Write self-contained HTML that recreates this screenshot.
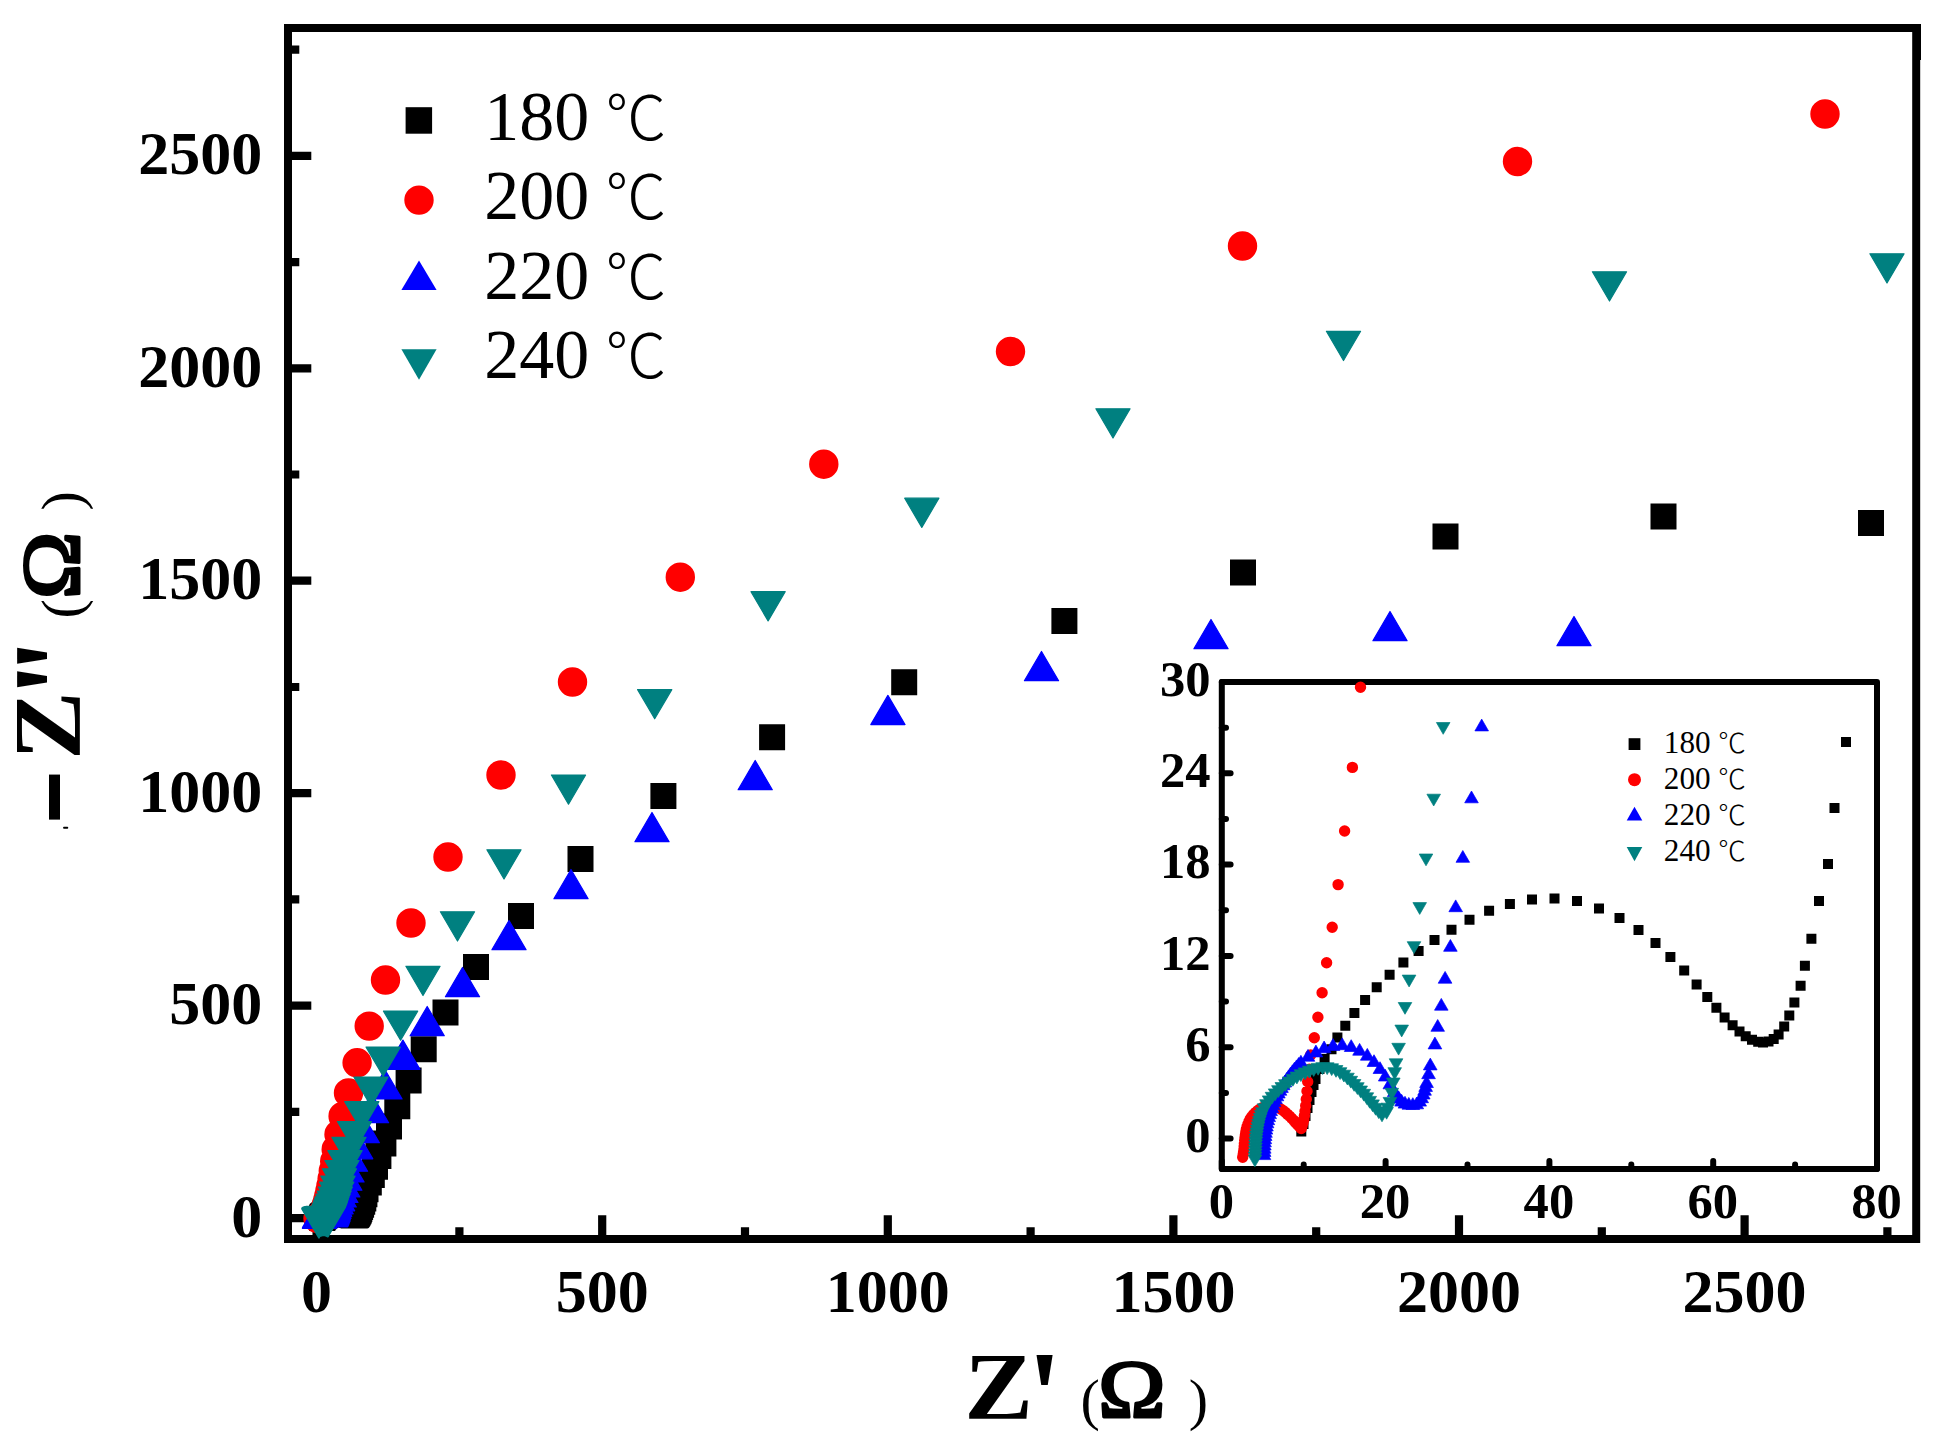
<!DOCTYPE html>
<html><head><meta charset="utf-8"><title>Nyquist plot</title>
<style>html,body{margin:0;padding:0;background:#fff}svg{display:block}
.tb{font-family:"Liberation Serif","Noto Serif CJK SC",serif;font-weight:bold}
.lg{font-family:"Liberation Serif","Noto Serif CJK SC",serif;font-weight:normal}
.dc{font-family:"Noto Sans CJK SC","Noto Serif CJK SC","Liberation Serif",sans-serif;font-weight:300}
</style></head><body>
<svg width="1934" height="1446" viewBox="0 0 1934 1446">
<rect width="1934" height="1446" fill="#fff"/>
<g id="main-axes" stroke="#000" fill="none">
<rect x="288" y="28" width="1628.2" height="1211" stroke-width="8"/>
<path stroke-width="3" d="M1919.5 24v36M285.5 60v1183"/>
<path stroke-width="8.2" d="M291 1218.1H311.3M316.6 1236V1215.2M291 1005.6H311.3M602.2 1236V1215.2M291 793.2H311.3M887.8 1236V1215.2M291 580.7H311.3M1173.4 1236V1215.2M291 368.3H311.3M1459 1236V1215.2M291 155.8H311.3M1744.6 1236V1215.2M291 1111.9H299.3M459.4 1236V1227.2M291 899.4H299.3M745 1236V1227.2M291 687H299.3M1030.6 1236V1227.2M291 474.5H299.3M1316.2 1236V1227.2M291 262.1H299.3M1601.8 1236V1227.2M291 49.6H299.3M1887.4 1236V1227.2"/>
</g>
<g id="main-data">
<path fill="#000000" d="M309.1 1204.9h26v26h-26zM309.3 1204.7h26v26h-26zM309.4 1204.5h26v26h-26zM309.5 1204.2h26v26h-26zM309.7 1204h26v26h-26zM309.8 1203.8h26v26h-26zM310 1203.6h26v26h-26zM310.1 1203.4h26v26h-26zM310.4 1203.2h26v26h-26zM310.7 1202.9h26v26h-26zM311.2 1202.6h26v26h-26zM311.6 1202.3h26v26h-26zM312.2 1201.9h26v26h-26zM312.8 1201.6h26v26h-26zM313.6 1201.2h26v26h-26zM314.4 1200.9h26v26h-26zM315.3 1200.5h26v26h-26zM316.2 1200.2h26v26h-26zM317.3 1199.9h26v26h-26zM318.4 1199.6h26v26h-26zM319.6 1199.3h26v26h-26zM320.8 1199h26v26h-26zM322.2 1198.7h26v26h-26zM323.7 1198.6h26v26h-26zM325.2 1198.4h26v26h-26zM326.8 1198.4h26v26h-26zM328.3 1198.5h26v26h-26zM329.9 1198.7h26v26h-26zM331.3 1198.9h26v26h-26zM332.6 1199.3h26v26h-26zM333.8 1199.6h26v26h-26zM334.8 1200h26v26h-26zM335.8 1200.4h26v26h-26zM336.7 1200.8h26v26h-26zM337.4 1201.1h26v26h-26zM338.1 1201.4h26v26h-26zM338.6 1201.7h26v26h-26zM339.2 1201.9h26v26h-26zM339.7 1202.1h26v26h-26zM340.1 1202.2h26v26h-26zM340.5 1202.3h26v26h-26zM341 1202.4h26v26h-26zM341.3 1202.4h26v26h-26zM341.7 1202.4h26v26h-26zM342.1 1202.3h26v26h-26zM342.4 1202.2h26v26h-26zM342.8 1202h26v26h-26zM343.1 1201.7h26v26h-26zM343.5 1201.3h26v26h-26zM343.9 1200.8h26v26h-26zM344.2 1200.3h26v26h-26zM344.7 1199.5h26v26h-26zM345.2 1198.5h26v26h-26zM345.8 1197.4h26v26h-26zM346.3 1195.9h26v26h-26zM347.1 1194h26v26h-26zM348.1 1191.7h26v26h-26zM349.2 1188.8h26v26h-26zM350.3 1185.4h26v26h-26zM351.4 1181.2h26v26h-26zM352.5 1176.2h26v26h-26zM355.8 1169.6h26v26h-26zM358.8 1162h26v26h-26zM362 1153.8h26v26h-26zM365.4 1143h26v26h-26zM370.4 1130.5h26v26h-26zM376 1113.6h26v26h-26zM384.3 1093.3h26v26h-26zM395.6 1067.4h26v26h-26zM410.7 1036.3h26v26h-26zM432.5 999.5h26v26h-26zM463 954h26v26h-26zM508 903h26v26h-26zM567.5 846h26v26h-26zM650.4 782.9h26v26h-26zM759.1 724.2h26v26h-26zM891.2 669.2h26v26h-26zM1051.4 607.9h26v26h-26zM1230 559.5h26v26h-26zM1432.5 523.5h26v26h-26zM1650.5 503.5h26v26h-26zM1858 510h26v26h-26z"/>
<path fill="#ff0000" d="M303.3 1218.6a14.7 14.7 0 1 0 29.4 0a14.7 14.7 0 1 0 -29.4 0zM303.4 1218.5a14.7 14.7 0 1 0 29.4 0a14.7 14.7 0 1 0 -29.4 0zM303.4 1218.5a14.7 14.7 0 1 0 29.4 0a14.7 14.7 0 1 0 -29.4 0zM303.4 1218.4a14.7 14.7 0 1 0 29.4 0a14.7 14.7 0 1 0 -29.4 0zM303.4 1218.3a14.7 14.7 0 1 0 29.4 0a14.7 14.7 0 1 0 -29.4 0zM303.4 1218.2a14.7 14.7 0 1 0 29.4 0a14.7 14.7 0 1 0 -29.4 0zM303.5 1218.2a14.7 14.7 0 1 0 29.4 0a14.7 14.7 0 1 0 -29.4 0zM303.5 1218.1a14.7 14.7 0 1 0 29.4 0a14.7 14.7 0 1 0 -29.4 0zM303.5 1218a14.7 14.7 0 1 0 29.4 0a14.7 14.7 0 1 0 -29.4 0zM303.5 1217.9a14.7 14.7 0 1 0 29.4 0a14.7 14.7 0 1 0 -29.4 0zM303.6 1217.8a14.7 14.7 0 1 0 29.4 0a14.7 14.7 0 1 0 -29.4 0zM303.6 1217.8a14.7 14.7 0 1 0 29.4 0a14.7 14.7 0 1 0 -29.4 0zM303.7 1217.7a14.7 14.7 0 1 0 29.4 0a14.7 14.7 0 1 0 -29.4 0zM303.8 1217.6a14.7 14.7 0 1 0 29.4 0a14.7 14.7 0 1 0 -29.4 0zM303.8 1217.6a14.7 14.7 0 1 0 29.4 0a14.7 14.7 0 1 0 -29.4 0zM303.9 1217.5a14.7 14.7 0 1 0 29.4 0a14.7 14.7 0 1 0 -29.4 0zM304.1 1217.4a14.7 14.7 0 1 0 29.4 0a14.7 14.7 0 1 0 -29.4 0zM304.2 1217.4a14.7 14.7 0 1 0 29.4 0a14.7 14.7 0 1 0 -29.4 0zM304.3 1217.3a14.7 14.7 0 1 0 29.4 0a14.7 14.7 0 1 0 -29.4 0zM304.5 1217.3a14.7 14.7 0 1 0 29.4 0a14.7 14.7 0 1 0 -29.4 0zM304.7 1217.2a14.7 14.7 0 1 0 29.4 0a14.7 14.7 0 1 0 -29.4 0zM304.9 1217.2a14.7 14.7 0 1 0 29.4 0a14.7 14.7 0 1 0 -29.4 0zM305.1 1217.2a14.7 14.7 0 1 0 29.4 0a14.7 14.7 0 1 0 -29.4 0zM305.3 1217.2a14.7 14.7 0 1 0 29.4 0a14.7 14.7 0 1 0 -29.4 0zM305.4 1217.2a14.7 14.7 0 1 0 29.4 0a14.7 14.7 0 1 0 -29.4 0zM305.6 1217.2a14.7 14.7 0 1 0 29.4 0a14.7 14.7 0 1 0 -29.4 0zM305.8 1217.2a14.7 14.7 0 1 0 29.4 0a14.7 14.7 0 1 0 -29.4 0zM306 1217.3a14.7 14.7 0 1 0 29.4 0a14.7 14.7 0 1 0 -29.4 0zM306.2 1217.3a14.7 14.7 0 1 0 29.4 0a14.7 14.7 0 1 0 -29.4 0zM306.3 1217.4a14.7 14.7 0 1 0 29.4 0a14.7 14.7 0 1 0 -29.4 0zM306.5 1217.4a14.7 14.7 0 1 0 29.4 0a14.7 14.7 0 1 0 -29.4 0zM306.6 1217.5a14.7 14.7 0 1 0 29.4 0a14.7 14.7 0 1 0 -29.4 0zM306.7 1217.5a14.7 14.7 0 1 0 29.4 0a14.7 14.7 0 1 0 -29.4 0zM306.9 1217.6a14.7 14.7 0 1 0 29.4 0a14.7 14.7 0 1 0 -29.4 0zM307 1217.6a14.7 14.7 0 1 0 29.4 0a14.7 14.7 0 1 0 -29.4 0zM307.1 1217.7a14.7 14.7 0 1 0 29.4 0a14.7 14.7 0 1 0 -29.4 0zM307.3 1217.8a14.7 14.7 0 1 0 29.4 0a14.7 14.7 0 1 0 -29.4 0zM307.4 1217.8a14.7 14.7 0 1 0 29.4 0a14.7 14.7 0 1 0 -29.4 0zM307.4 1217.8a14.7 14.7 0 1 0 29.4 0a14.7 14.7 0 1 0 -29.4 0zM307.5 1217.7a14.7 14.7 0 1 0 29.4 0a14.7 14.7 0 1 0 -29.4 0zM307.5 1217.7a14.7 14.7 0 1 0 29.4 0a14.7 14.7 0 1 0 -29.4 0zM307.6 1217.6a14.7 14.7 0 1 0 29.4 0a14.7 14.7 0 1 0 -29.4 0zM307.6 1217.5a14.7 14.7 0 1 0 29.4 0a14.7 14.7 0 1 0 -29.4 0zM307.7 1217.3a14.7 14.7 0 1 0 29.4 0a14.7 14.7 0 1 0 -29.4 0zM307.7 1217.2a14.7 14.7 0 1 0 29.4 0a14.7 14.7 0 1 0 -29.4 0zM307.8 1217a14.7 14.7 0 1 0 29.4 0a14.7 14.7 0 1 0 -29.4 0zM307.8 1216.8a14.7 14.7 0 1 0 29.4 0a14.7 14.7 0 1 0 -29.4 0zM307.9 1216.5a14.7 14.7 0 1 0 29.4 0a14.7 14.7 0 1 0 -29.4 0zM308 1216.2a14.7 14.7 0 1 0 29.4 0a14.7 14.7 0 1 0 -29.4 0zM308.1 1215.8a14.7 14.7 0 1 0 29.4 0a14.7 14.7 0 1 0 -29.4 0zM308.3 1215.3a14.7 14.7 0 1 0 29.4 0a14.7 14.7 0 1 0 -29.4 0zM308.6 1214.7a14.7 14.7 0 1 0 29.4 0a14.7 14.7 0 1 0 -29.4 0zM308.9 1214a14.7 14.7 0 1 0 29.4 0a14.7 14.7 0 1 0 -29.4 0zM309.2 1213.2a14.7 14.7 0 1 0 29.4 0a14.7 14.7 0 1 0 -29.4 0zM309.6 1212.2a14.7 14.7 0 1 0 29.4 0a14.7 14.7 0 1 0 -29.4 0zM310 1211a14.7 14.7 0 1 0 29.4 0a14.7 14.7 0 1 0 -29.4 0zM310.4 1209.5a14.7 14.7 0 1 0 29.4 0a14.7 14.7 0 1 0 -29.4 0zM311 1207.7a14.7 14.7 0 1 0 29.4 0a14.7 14.7 0 1 0 -29.4 0zM311.5 1205.5a14.7 14.7 0 1 0 29.4 0a14.7 14.7 0 1 0 -29.4 0zM312.3 1202.9a14.7 14.7 0 1 0 29.4 0a14.7 14.7 0 1 0 -29.4 0zM313.2 1199.7a14.7 14.7 0 1 0 29.4 0a14.7 14.7 0 1 0 -29.4 0zM314.1 1195.9a14.7 14.7 0 1 0 29.4 0a14.7 14.7 0 1 0 -29.4 0zM315.1 1191.3a14.7 14.7 0 1 0 29.4 0a14.7 14.7 0 1 0 -29.4 0zM316.2 1185.8a14.7 14.7 0 1 0 29.4 0a14.7 14.7 0 1 0 -29.4 0zM317.4 1179.1a14.7 14.7 0 1 0 29.4 0a14.7 14.7 0 1 0 -29.4 0zM318.6 1171a14.7 14.7 0 1 0 29.4 0a14.7 14.7 0 1 0 -29.4 0zM320 1161.3a14.7 14.7 0 1 0 29.4 0a14.7 14.7 0 1 0 -29.4 0zM321.5 1149.5a14.7 14.7 0 1 0 29.4 0a14.7 14.7 0 1 0 -29.4 0zM324.3 1134.5a14.7 14.7 0 1 0 29.4 0a14.7 14.7 0 1 0 -29.4 0zM328.4 1116.2a14.7 14.7 0 1 0 29.4 0a14.7 14.7 0 1 0 -29.4 0zM333.8 1093a14.7 14.7 0 1 0 29.4 0a14.7 14.7 0 1 0 -29.4 0zM342.4 1062.8a14.7 14.7 0 1 0 29.4 0a14.7 14.7 0 1 0 -29.4 0zM354.5 1026.1a14.7 14.7 0 1 0 29.4 0a14.7 14.7 0 1 0 -29.4 0zM370.8 980a14.7 14.7 0 1 0 29.4 0a14.7 14.7 0 1 0 -29.4 0zM396.3 923a14.7 14.7 0 1 0 29.4 0a14.7 14.7 0 1 0 -29.4 0zM433.3 857a14.7 14.7 0 1 0 29.4 0a14.7 14.7 0 1 0 -29.4 0zM486.3 775a14.7 14.7 0 1 0 29.4 0a14.7 14.7 0 1 0 -29.4 0zM557.8 682a14.7 14.7 0 1 0 29.4 0a14.7 14.7 0 1 0 -29.4 0zM665.6 577.2a14.7 14.7 0 1 0 29.4 0a14.7 14.7 0 1 0 -29.4 0zM809.1 464.2a14.7 14.7 0 1 0 29.4 0a14.7 14.7 0 1 0 -29.4 0zM995.8 351.5a14.7 14.7 0 1 0 29.4 0a14.7 14.7 0 1 0 -29.4 0zM1227.8 246a14.7 14.7 0 1 0 29.4 0a14.7 14.7 0 1 0 -29.4 0zM1502.8 161.5a14.7 14.7 0 1 0 29.4 0a14.7 14.7 0 1 0 -29.4 0zM1810.3 114a14.7 14.7 0 1 0 29.4 0a14.7 14.7 0 1 0 -29.4 0z"/>
<path fill="#0000ff" stroke="#0000ff" stroke-width="1.2" stroke-linejoin="round" d="M319.5 1199.1L336.6 1228.3L302.4 1228.3zM319.5 1199L336.6 1228.2L302.4 1228.2zM319.5 1198.9L336.6 1228.1L302.4 1228.1zM319.5 1198.8L336.6 1228L302.4 1228zM319.5 1198.8L336.6 1228L302.4 1228zM319.6 1198.7L336.7 1227.9L302.5 1227.9zM319.6 1198.6L336.7 1227.8L302.5 1227.8zM319.6 1198.5L336.7 1227.7L302.5 1227.7zM319.6 1198.4L336.7 1227.6L302.5 1227.6zM319.7 1198.3L336.8 1227.5L302.6 1227.5zM319.7 1198.2L336.8 1227.4L302.6 1227.4zM319.8 1198.1L336.9 1227.3L302.7 1227.3zM319.8 1198L336.9 1227.2L302.7 1227.2zM319.9 1198L337 1227.2L302.8 1227.2zM320 1197.9L337.1 1227.1L302.9 1227.1zM320 1197.8L337.1 1227L302.9 1227zM320.1 1197.7L337.2 1226.9L303 1226.9zM320.2 1197.6L337.3 1226.8L303.1 1226.8zM320.3 1197.5L337.4 1226.7L303.2 1226.7zM320.4 1197.5L337.5 1226.7L303.3 1226.7zM320.5 1197.4L337.6 1226.6L303.4 1226.6zM320.6 1197.3L337.7 1226.5L303.5 1226.5zM320.7 1197.2L337.8 1226.4L303.6 1226.4zM320.8 1197.2L337.9 1226.4L303.7 1226.4zM321 1197.1L338.1 1226.3L303.9 1226.3zM321.1 1197L338.2 1226.2L304 1226.2zM321.2 1196.9L338.3 1226.1L304.1 1226.1zM321.3 1196.9L338.4 1226.1L304.2 1226.1zM321.5 1196.8L338.6 1226L304.4 1226zM321.6 1196.7L338.7 1225.9L304.5 1225.9zM321.8 1196.7L338.9 1225.9L304.7 1225.9zM321.9 1196.6L339 1225.8L304.8 1225.8zM322.1 1196.5L339.2 1225.7L305 1225.7zM322.6 1196.4L339.7 1225.6L305.5 1225.6zM323.1 1196.2L340.2 1225.4L306 1225.4zM323.7 1196.1L340.8 1225.3L306.6 1225.3zM324.3 1196.1L341.4 1225.3L307.2 1225.3zM325 1196L342.1 1225.2L307.9 1225.2zM325.6 1196.1L342.7 1225.3L308.5 1225.3zM326.2 1196.2L343.3 1225.4L309.1 1225.4zM326.7 1196.3L343.8 1225.5L309.6 1225.5zM327.2 1196.5L344.3 1225.7L310.1 1225.7zM327.6 1196.7L344.7 1225.9L310.5 1225.9zM328 1196.9L345.1 1226.1L310.9 1226.1zM328.3 1197.1L345.4 1226.3L311.2 1226.3zM328.6 1197.4L345.7 1226.6L311.5 1226.6zM328.7 1197.4L345.8 1226.6L311.6 1226.6zM328.9 1197.5L346 1226.7L311.8 1226.7zM329.1 1197.6L346.2 1226.8L312 1226.8zM329.3 1197.7L346.4 1226.9L312.2 1226.9zM329.6 1197.7L346.7 1226.9L312.5 1226.9zM329.9 1197.7L347 1226.9L312.8 1226.9zM330.2 1197.7L347.3 1226.9L313.1 1226.9zM330.4 1197.6L347.5 1226.8L313.3 1226.8zM330.5 1197.5L347.6 1226.7L313.4 1226.7zM330.6 1197.4L347.7 1226.6L313.5 1226.6zM330.7 1197.3L347.8 1226.5L313.6 1226.5zM330.8 1197.2L347.9 1226.4L313.7 1226.4zM330.8 1197.1L347.9 1226.3L313.7 1226.3zM331 1196.9L348.1 1226.1L313.9 1226.1zM331.1 1196.6L348.2 1225.8L314 1225.8zM331.4 1196L348.5 1225.2L314.3 1225.2zM331.6 1195.5L348.7 1224.7L314.5 1224.7zM331.9 1194.9L349 1224.1L314.8 1224.1zM332.1 1194.2L349.2 1223.4L315 1223.4zM332.5 1193.3L349.6 1222.5L315.4 1222.5zM332.9 1192.2L350 1221.4L315.8 1221.4zM333.4 1190.8L350.5 1220L316.3 1220zM334 1189.1L351.1 1218.3L316.9 1218.3zM334.7 1187.1L351.8 1216.3L317.6 1216.3zM336.1 1184.6L353.2 1213.8L319 1213.8zM337.6 1181.6L354.7 1210.8L320.5 1210.8zM339.2 1177.8L356.3 1207L322.1 1207zM340.9 1173.3L358 1202.5L323.8 1202.5zM342.8 1167.8L359.9 1197L325.7 1197zM344.8 1161L361.9 1190.2L327.7 1190.2zM347 1152.8L364.1 1182L329.9 1182zM350.5 1142L367.6 1171.2L333.4 1171.2zM355.7 1129.6L372.8 1158.8L338.6 1158.8zM362.3 1113.5L379.4 1142.7L345.2 1142.7zM371.5 1093.5L388.6 1122.7L354.4 1122.7zM385 1069.8L402.1 1099L367.9 1099zM402.9 1040.1L420 1069.3L385.8 1069.3zM427.2 1006.5L444.3 1035.7L410.1 1035.7zM462.5 967.5L479.6 996.7L445.4 996.7zM509 920.5L526.1 949.7L491.9 949.7zM571 869.5L588.1 898.7L553.9 898.7zM652 812.5L669.1 841.7L634.9 841.7zM755.2 760.5L772.3 789.7L738.1 789.7zM887.9 695.4L905 724.6L870.8 724.6zM1041.5 651.5L1058.6 680.7L1024.4 680.7zM1211 619.5L1228.1 648.7L1193.9 648.7zM1390 611.5L1407.1 640.7L1372.9 640.7zM1574 616.5L1591.1 645.7L1556.9 645.7z"/>
<path fill="#008080" stroke="#008080" stroke-width="1.2" stroke-linejoin="round" d="M301.8 1208.9L336 1208.9L318.9 1238.1zM301.8 1208.8L336 1208.8L318.9 1238zM301.8 1208.8L336 1208.8L318.9 1238zM301.8 1208.7L336 1208.7L318.9 1237.9zM301.8 1208.6L336 1208.6L318.9 1237.8zM301.8 1208.5L336 1208.5L318.9 1237.7zM301.8 1208.4L336 1208.4L318.9 1237.6zM301.9 1208.3L336.1 1208.3L319 1237.5zM301.9 1208.3L336.1 1208.3L319 1237.5zM301.9 1208.2L336.1 1208.2L319 1237.4zM301.9 1208.1L336.1 1208.1L319 1237.3zM302 1208L336.2 1208L319.1 1237.2zM302 1207.9L336.2 1207.9L319.1 1237.1zM302.1 1207.9L336.3 1207.9L319.2 1237.1zM302.1 1207.8L336.3 1207.8L319.2 1237zM302.2 1207.7L336.4 1207.7L319.3 1236.9zM302.3 1207.6L336.5 1207.6L319.4 1236.8zM302.4 1207.5L336.6 1207.5L319.5 1236.7zM302.6 1207.4L336.8 1207.4L319.7 1236.6zM302.8 1207.3L337 1207.3L319.9 1236.5zM303 1207.2L337.2 1207.2L320.1 1236.4zM303.2 1207.1L337.4 1207.1L320.3 1236.3zM303.4 1207L337.6 1207L320.5 1236.2zM303.6 1206.9L337.8 1206.9L320.7 1236.1zM303.9 1206.8L338.1 1206.8L321 1236zM304.2 1206.8L338.4 1206.8L321.3 1236zM304.4 1206.7L338.6 1206.7L321.5 1235.9zM304.7 1206.6L338.9 1206.6L321.8 1235.8zM305 1206.6L339.2 1206.6L322.1 1235.8zM305.3 1206.5L339.5 1206.5L322.4 1235.7zM305.6 1206.5L339.8 1206.5L322.7 1235.7zM305.9 1206.4L340.1 1206.4L323 1235.6zM306.2 1206.4L340.4 1206.4L323.3 1235.6zM306.5 1206.4L340.7 1206.4L323.6 1235.6zM306.8 1206.4L341 1206.4L323.9 1235.6zM307.1 1206.4L341.3 1206.4L324.2 1235.6zM307.4 1206.4L341.6 1206.4L324.5 1235.6zM307.7 1206.5L341.9 1206.5L324.8 1235.7zM308 1206.6L342.2 1206.6L325.1 1235.8zM308.2 1206.6L342.4 1206.6L325.3 1235.8zM308.5 1206.7L342.7 1206.7L325.6 1235.9zM308.7 1206.8L342.9 1206.8L325.8 1236zM308.9 1206.9L343.1 1206.9L326 1236.1zM309.1 1207L343.3 1207L326.2 1236.2zM309.4 1207.1L343.6 1207.1L326.5 1236.3zM309.6 1207.2L343.8 1207.2L326.7 1236.4zM309.8 1207.3L344 1207.3L326.9 1236.5zM310 1207.4L344.2 1207.4L327.1 1236.6zM310.2 1207.5L344.4 1207.5L327.3 1236.7zM310.4 1207.6L344.6 1207.6L327.5 1236.8zM310.6 1207.7L344.8 1207.7L327.7 1236.9zM311 1207.6L345.2 1207.6L328.1 1236.8zM311 1207.5L345.2 1207.5L328.1 1236.7zM311.2 1207.3L345.4 1207.3L328.3 1236.5zM311.3 1207.1L345.5 1207.1L328.4 1236.3zM311.4 1206.8L345.6 1206.8L328.5 1236zM311.5 1206.5L345.7 1206.5L328.6 1235.7zM311.6 1206.2L345.8 1206.2L328.7 1235.4zM311.8 1205.8L346 1205.8L328.9 1235zM312 1205.3L346.2 1205.3L329.1 1234.5zM312.2 1204.7L346.4 1204.7L329.3 1233.9zM312.5 1203.9L346.7 1203.9L329.6 1233.1zM312.9 1203L347.1 1203L330 1232.2zM313.3 1201.9L347.5 1201.9L330.4 1231.1zM313.7 1200.5L347.9 1200.5L330.8 1229.7zM314.2 1198.9L348.4 1198.9L331.3 1228.1zM314.9 1196.9L349.1 1196.9L332 1226.1zM316 1194.2L350.2 1194.2L333.1 1223.4zM317.1 1191L351.3 1191L334.2 1220.2zM318.3 1187L352.5 1187L335.4 1216.2zM319.6 1182.1L353.8 1182.1L336.7 1211.3zM320.9 1176.1L355.1 1176.1L338 1205.3zM322.4 1168.8L356.6 1168.8L339.5 1198zM324.9 1160.5L359.1 1160.5L342 1189.7zM327.9 1150.6L362.1 1150.6L345 1179.8zM331.9 1137.3L366.1 1137.3L349 1166.5zM337.4 1121.5L371.6 1121.5L354.5 1150.7zM344.7 1101.6L378.9 1101.6L361.8 1130.8zM353.9 1077L388.1 1077L371 1106.2zM366.1 1047.1L400.3 1047.1L383.2 1076.3zM383.5 1011.1L417.7 1011.1L400.6 1040.3zM405.9 966.3L440.1 966.3L423 995.5zM440.4 911.8L474.6 911.8L457.5 941zM486.9 849.8L521.1 849.8L504 879zM551.4 775L585.6 775L568.5 804.2zM637.6 689.6L671.8 689.6L654.7 718.8zM751 591.7L785.2 591.7L768.1 620.9zM904.7 498.2L938.9 498.2L921.8 527.4zM1095.9 408.8L1130.1 408.8L1113 438zM1326.4 331.3L1360.6 331.3L1343.5 360.5zM1592.4 271.8L1626.6 271.8L1609.5 301zM1869.9 253.8L1904.1 253.8L1887 283z"/>
</g>
<g class="tb" font-size="62" fill="#000">
<text x="262.2" y="1236.5" text-anchor="end">0</text><text x="262.2" y="1024" text-anchor="end">500</text><text x="262.2" y="811.6" text-anchor="end">1000</text><text x="262.2" y="599.1" text-anchor="end">1500</text><text x="262.2" y="386.7" text-anchor="end">2000</text><text x="262.2" y="174.2" text-anchor="end">2500</text>
<text x="316.6" y="1312.2" text-anchor="middle">0</text><text x="602.2" y="1312.2" text-anchor="middle">500</text><text x="887.8" y="1312.2" text-anchor="middle">1000</text><text x="1173.4" y="1312.2" text-anchor="middle">1500</text><text x="1459" y="1312.2" text-anchor="middle">2000</text><text x="1744.6" y="1312.2" text-anchor="middle">2500</text>
</g>
<text id="xtitle" fill="#000"><tspan class="tb" font-size="96" x="964.2" y="1418.8" textLength="68.8" lengthAdjust="spacingAndGlyphs">Z</tspan><tspan class="tb" font-size="128" x="1026.8" y="1438.2">'</tspan><tspan class="lg" font-size="20"> </tspan><tspan class="lg" font-size="58" x="1080.4" y="1419">(</tspan><tspan class="lg" font-size="83" stroke="#000" stroke-width="3" stroke-linejoin="round" textLength="67.2" lengthAdjust="spacingAndGlyphs" x="1098.3" y="1417.3">Ω</tspan><tspan class="lg" font-size="20"> </tspan><tspan class="lg" font-size="58" x="1188.7" y="1419">)</tspan></text>
<rect x="63.1" y="826.8" width="5.1" height="2" rx="0.8" fill="#000"/>
<text id="ytitle" fill="#000" transform="translate(80.2 0) rotate(-90)"><tspan class="tb" font-size="130" x="-826" y="5.2" textLength="57.8" lengthAdjust="spacingAndGlyphs">-</tspan><tspan class="tb" font-size="96" x="-760" y="0" textLength="68.8" lengthAdjust="spacingAndGlyphs">Z</tspan><tspan class="tb" font-size="128" x="-697 -673.5" y="19.4">''</tspan><tspan class="lg" font-size="20"> </tspan><tspan class="lg" font-size="58" x="-618.6" y="0.5">(</tspan><tspan class="lg" font-size="83" stroke="#000" stroke-width="3" stroke-linejoin="round" textLength="67.2" lengthAdjust="spacingAndGlyphs" x="-599.1" y="-1.5">Ω</tspan><tspan class="lg" font-size="20"> </tspan><tspan class="lg" font-size="58" x="-510.5" y="0.5">)</tspan></text>
<g id="legend">
<path fill="#000" d="M405.6 107.2h26.5v26.5h-26.5z"/><circle cx="419" cy="200.1" r="14.7" fill="#f00"/><path fill="#00f" d="M419 260.4L436.6 290H401.4z"/><path fill="#008080" d="M401.4 349.3H436.6L419 379.8z"/>
<text><tspan class="lg" font-size="70" x="484.2" y="139.6">180</tspan><tspan class="lg" font-size="20"> </tspan><tspan class="dc" font-size="61" x="605.4" y="139.6">℃</tspan></text>
<text><tspan class="lg" font-size="70" x="484.2" y="219.2">200</tspan><tspan class="lg" font-size="20"> </tspan><tspan class="dc" font-size="61" x="605.4" y="219.2">℃</tspan></text>
<text><tspan class="lg" font-size="70" x="484.2" y="298.8">220</tspan><tspan class="lg" font-size="20"> </tspan><tspan class="dc" font-size="61" x="605.4" y="298.8">℃</tspan></text>
<text><tspan class="lg" font-size="70" x="484.2" y="378.4">240</tspan><tspan class="lg" font-size="20"> </tspan><tspan class="dc" font-size="61" x="605.4" y="378.4">℃</tspan></text>
</g>
<g id="inset">
<rect x="1221.8" y="682" width="655.2" height="487" fill="#fff" stroke="none"/>
<g stroke="#000" fill="none" stroke-width="6" stroke-linecap="round" stroke-linejoin="round">
<rect x="1221.8" y="682" width="655.2" height="487"/>
<path d="M1221.8 1138.6H1230.6M1221.8 1047.3H1230.6M1221.8 956H1230.6M1221.8 864.6H1230.6M1221.8 773.3H1230.6M1221.8 682H1230.6M1221.8 1092.9H1226M1221.8 1001.6H1226M1221.8 910.3H1226M1221.8 819H1226M1221.8 727.7H1226M1221.8 1169V1161M1385.6 1169V1161M1549.4 1169V1161M1713.2 1169V1161M1877 1169V1161M1303.7 1169V1164.5M1467.5 1169V1164.5M1631.3 1169V1164.5M1795.1 1169V1164.5"/>
</g>
<g id="inset-data">
<path fill="#000000" d="M1296.3 1126.5h10v10h-10zM1298.5 1119h10v10h-10zM1300.5 1111h10v10h-10zM1302.5 1103h10v10h-10zM1304.5 1095h10v10h-10zM1306.5 1087h10v10h-10zM1308.5 1080h10v10h-10zM1310.5 1074h10v10h-10zM1314.5 1064h10v10h-10zM1319.6 1054.1h10v10h-10zM1326.5 1044.2h10v10h-10zM1332.4 1032.4h10v10h-10zM1340.3 1020.7h10v10h-10zM1349.4 1007.9h10v10h-10zM1360.1 995.1h10v10h-10zM1371.7 982.2h10v10h-10zM1384.6 969.8h10v10h-10zM1398.4 957.6h10v10h-10zM1413.6 946h10v10h-10zM1429.5 934.9h10v10h-10zM1446.5 924.7h10v10h-10zM1464.5 914.7h10v10h-10zM1484.1 905.7h10v10h-10zM1504.9 899h10v10h-10zM1527 894.5h10v10h-10zM1549.5 893.5h10v10h-10zM1572 896h10v10h-10zM1594 903.5h10v10h-10zM1614.5 913h10v10h-10zM1633.5 925h10v10h-10zM1650.5 938h10v10h-10zM1665.4 952.1h10v10h-10zM1679.2 965.6h10v10h-10zM1691.6 979.4h10v10h-10zM1702.3 991.9h10v10h-10zM1711.4 1002.7h10v10h-10zM1719.6 1012.4h10v10h-10zM1727.6 1020.2h10v10h-10zM1734.5 1026.5h10v10h-10zM1740.7 1031.3h10v10h-10zM1747 1034.8h10v10h-10zM1753.2 1036.8h10v10h-10zM1758 1037.5h10v10h-10zM1763.5 1036.4h10v10h-10zM1768.7 1034.1h10v10h-10zM1773.6 1029.5h10v10h-10zM1779.2 1021.6h10v10h-10zM1784.3 1010.6h10v10h-10zM1789.4 997.4h10v10h-10zM1795.6 980.8h10v10h-10zM1799.9 960.8h10v10h-10zM1806.4 933.8h10v10h-10zM1814 896.1h10v10h-10zM1823 858.9h10v10h-10zM1829.5 803h10v10h-10zM1841 737h10v10h-10z"/>
<path fill="#ff0000" d="M1237 1157.3a5.7 5.7 0 1 0 11.4 0a5.7 5.7 0 1 0 -11.4 0zM1237.5 1154.5a5.7 5.7 0 1 0 11.4 0a5.7 5.7 0 1 0 -11.4 0zM1237.9 1151.8a5.7 5.7 0 1 0 11.4 0a5.7 5.7 0 1 0 -11.4 0zM1238.3 1149a5.7 5.7 0 1 0 11.4 0a5.7 5.7 0 1 0 -11.4 0zM1238.5 1146.2a5.7 5.7 0 1 0 11.4 0a5.7 5.7 0 1 0 -11.4 0zM1238.7 1143.4a5.7 5.7 0 1 0 11.4 0a5.7 5.7 0 1 0 -11.4 0zM1239 1140.6a5.7 5.7 0 1 0 11.4 0a5.7 5.7 0 1 0 -11.4 0zM1239.3 1137.9a5.7 5.7 0 1 0 11.4 0a5.7 5.7 0 1 0 -11.4 0zM1239.7 1135.1a5.7 5.7 0 1 0 11.4 0a5.7 5.7 0 1 0 -11.4 0zM1240.1 1132.3a5.7 5.7 0 1 0 11.4 0a5.7 5.7 0 1 0 -11.4 0zM1240.6 1129.6a5.7 5.7 0 1 0 11.4 0a5.7 5.7 0 1 0 -11.4 0zM1241.3 1126.9a5.7 5.7 0 1 0 11.4 0a5.7 5.7 0 1 0 -11.4 0zM1242.2 1124.2a5.7 5.7 0 1 0 11.4 0a5.7 5.7 0 1 0 -11.4 0zM1243.3 1121.6a5.7 5.7 0 1 0 11.4 0a5.7 5.7 0 1 0 -11.4 0zM1244.5 1119.1a5.7 5.7 0 1 0 11.4 0a5.7 5.7 0 1 0 -11.4 0zM1246 1116.8a5.7 5.7 0 1 0 11.4 0a5.7 5.7 0 1 0 -11.4 0zM1247.8 1114.6a5.7 5.7 0 1 0 11.4 0a5.7 5.7 0 1 0 -11.4 0zM1249.7 1112.6a5.7 5.7 0 1 0 11.4 0a5.7 5.7 0 1 0 -11.4 0zM1251.8 1110.7a5.7 5.7 0 1 0 11.4 0a5.7 5.7 0 1 0 -11.4 0zM1254.1 1109.1a5.7 5.7 0 1 0 11.4 0a5.7 5.7 0 1 0 -11.4 0zM1256.6 1107.8a5.7 5.7 0 1 0 11.4 0a5.7 5.7 0 1 0 -11.4 0zM1259.2 1106.8a5.7 5.7 0 1 0 11.4 0a5.7 5.7 0 1 0 -11.4 0zM1261.9 1106.2a5.7 5.7 0 1 0 11.4 0a5.7 5.7 0 1 0 -11.4 0zM1264.7 1106.1a5.7 5.7 0 1 0 11.4 0a5.7 5.7 0 1 0 -11.4 0zM1267.5 1106.4a5.7 5.7 0 1 0 11.4 0a5.7 5.7 0 1 0 -11.4 0zM1270.2 1107a5.7 5.7 0 1 0 11.4 0a5.7 5.7 0 1 0 -11.4 0zM1272.9 1108a5.7 5.7 0 1 0 11.4 0a5.7 5.7 0 1 0 -11.4 0zM1275.4 1109.2a5.7 5.7 0 1 0 11.4 0a5.7 5.7 0 1 0 -11.4 0zM1277.7 1110.7a5.7 5.7 0 1 0 11.4 0a5.7 5.7 0 1 0 -11.4 0zM1279.9 1112.5a5.7 5.7 0 1 0 11.4 0a5.7 5.7 0 1 0 -11.4 0zM1281.9 1114.4a5.7 5.7 0 1 0 11.4 0a5.7 5.7 0 1 0 -11.4 0zM1284 1116.3a5.7 5.7 0 1 0 11.4 0a5.7 5.7 0 1 0 -11.4 0zM1285.9 1118.3a5.7 5.7 0 1 0 11.4 0a5.7 5.7 0 1 0 -11.4 0zM1287.9 1120.3a5.7 5.7 0 1 0 11.4 0a5.7 5.7 0 1 0 -11.4 0zM1289.8 1122.4a5.7 5.7 0 1 0 11.4 0a5.7 5.7 0 1 0 -11.4 0zM1291.7 1124.4a5.7 5.7 0 1 0 11.4 0a5.7 5.7 0 1 0 -11.4 0zM1293.6 1126.5a5.7 5.7 0 1 0 11.4 0a5.7 5.7 0 1 0 -11.4 0zM1295.5 1128.5a5.7 5.7 0 1 0 11.4 0a5.7 5.7 0 1 0 -11.4 0zM1295.8 1127.6a5.7 5.7 0 1 0 11.4 0a5.7 5.7 0 1 0 -11.4 0zM1296.5 1125.4a5.7 5.7 0 1 0 11.4 0a5.7 5.7 0 1 0 -11.4 0zM1297.3 1122.7a5.7 5.7 0 1 0 11.4 0a5.7 5.7 0 1 0 -11.4 0zM1298.1 1119.6a5.7 5.7 0 1 0 11.4 0a5.7 5.7 0 1 0 -11.4 0zM1298.7 1115.8a5.7 5.7 0 1 0 11.4 0a5.7 5.7 0 1 0 -11.4 0zM1299.3 1111.2a5.7 5.7 0 1 0 11.4 0a5.7 5.7 0 1 0 -11.4 0zM1300 1105.7a5.7 5.7 0 1 0 11.4 0a5.7 5.7 0 1 0 -11.4 0zM1300.6 1099.2a5.7 5.7 0 1 0 11.4 0a5.7 5.7 0 1 0 -11.4 0zM1301.3 1091.3a5.7 5.7 0 1 0 11.4 0a5.7 5.7 0 1 0 -11.4 0zM1302 1081.8a5.7 5.7 0 1 0 11.4 0a5.7 5.7 0 1 0 -11.4 0zM1303.7 1069.3a5.7 5.7 0 1 0 11.4 0a5.7 5.7 0 1 0 -11.4 0zM1305 1055a5.7 5.7 0 1 0 11.4 0a5.7 5.7 0 1 0 -11.4 0zM1308.6 1037.7a5.7 5.7 0 1 0 11.4 0a5.7 5.7 0 1 0 -11.4 0zM1312.2 1017.2a5.7 5.7 0 1 0 11.4 0a5.7 5.7 0 1 0 -11.4 0zM1316.4 992.7a5.7 5.7 0 1 0 11.4 0a5.7 5.7 0 1 0 -11.4 0zM1320.9 962.7a5.7 5.7 0 1 0 11.4 0a5.7 5.7 0 1 0 -11.4 0zM1326.5 927.2a5.7 5.7 0 1 0 11.4 0a5.7 5.7 0 1 0 -11.4 0zM1332.4 884.6a5.7 5.7 0 1 0 11.4 0a5.7 5.7 0 1 0 -11.4 0zM1338.9 831a5.7 5.7 0 1 0 11.4 0a5.7 5.7 0 1 0 -11.4 0zM1346.7 767.4a5.7 5.7 0 1 0 11.4 0a5.7 5.7 0 1 0 -11.4 0zM1354.8 687.2a5.7 5.7 0 1 0 11.4 0a5.7 5.7 0 1 0 -11.4 0z"/>
<path fill="#0000ff" stroke="#0000ff" stroke-width="0.7" stroke-linejoin="round" d="M1264 1147.8L1270.8 1159.6L1257.2 1159.6zM1264.1 1144.6L1271 1156.4L1257.3 1156.4zM1264.2 1141.4L1271.1 1153.2L1257.4 1153.2zM1264.4 1138.2L1271.2 1150L1257.5 1150zM1264.6 1135L1271.4 1146.8L1257.7 1146.8zM1264.8 1131.9L1271.7 1143.7L1258 1143.7zM1265.1 1128.7L1272 1140.5L1258.3 1140.5zM1265.5 1125.5L1272.3 1137.3L1258.6 1137.3zM1265.9 1122.3L1272.8 1134.1L1259.1 1134.1zM1266.4 1119.2L1273.3 1131L1259.6 1131zM1267.1 1116L1273.9 1127.8L1260.2 1127.8zM1267.8 1112.9L1274.7 1124.7L1261 1124.7zM1268.7 1109.8L1275.5 1121.6L1261.8 1121.6zM1269.6 1106.8L1276.5 1118.6L1262.8 1118.6zM1270.6 1103.7L1277.5 1115.5L1263.8 1115.5zM1271.7 1100.7L1278.6 1112.5L1264.9 1112.5zM1272.9 1097.8L1279.8 1109.6L1266.1 1109.6zM1274.2 1094.8L1281 1106.6L1267.3 1106.6zM1275.5 1091.9L1282.4 1103.7L1268.7 1103.7zM1276.9 1089L1283.8 1100.8L1270.1 1100.8zM1278.4 1086.2L1285.2 1098L1271.5 1098zM1279.9 1083.4L1286.8 1095.2L1273.1 1095.2zM1281.5 1080.6L1288.3 1092.4L1274.6 1092.4zM1283.1 1077.9L1290 1089.7L1276.3 1089.7zM1284.8 1075.1L1291.7 1086.9L1278 1086.9zM1286.6 1072.5L1293.5 1084.3L1279.8 1084.3zM1288.5 1069.9L1295.3 1081.7L1281.6 1081.7zM1290.4 1067.3L1297.2 1079.1L1283.5 1079.1zM1292.4 1064.8L1299.2 1076.6L1285.5 1076.6zM1294.4 1062.3L1301.2 1074.1L1287.5 1074.1zM1296.5 1059.9L1303.3 1071.7L1289.6 1071.7zM1298.6 1057.5L1305.5 1069.3L1291.8 1069.3zM1300.9 1055.3L1307.8 1067.1L1294.1 1067.1zM1308 1049.4L1314.8 1061.2L1301.1 1061.2zM1315.9 1045.1L1322.8 1056.9L1309.1 1056.9zM1324.1 1041L1331 1052.8L1317.3 1052.8zM1333 1038.6L1339.9 1050.4L1326.2 1050.4zM1342.2 1037.9L1349 1049.7L1335.3 1049.7zM1351.2 1039.7L1358 1051.5L1344.3 1051.5zM1359.6 1043.4L1366.4 1055.2L1352.7 1055.2zM1367.3 1048.4L1374.1 1060.2L1360.4 1060.2zM1374 1054.7L1380.8 1066.5L1367.1 1066.5zM1380 1061.7L1386.8 1073.5L1373.1 1073.5zM1385.2 1069.2L1392.1 1081L1378.4 1081zM1389.8 1077L1396.7 1088.8L1383 1088.8zM1394.3 1084.8L1401.1 1096.6L1387.4 1096.6zM1396.5 1088.1L1403.4 1099.9L1389.7 1099.9zM1398.9 1091.3L1405.8 1103.1L1392.1 1103.1zM1401.6 1094.3L1408.4 1106.1L1394.7 1106.1zM1405 1096.3L1411.8 1108.1L1398.1 1108.1zM1408.8 1097.4L1415.7 1109.2L1402 1109.2zM1412.8 1097.7L1419.7 1109.5L1406 1109.5zM1416.7 1097L1423.6 1108.8L1409.9 1108.8zM1419.7 1094.3L1426.5 1106.1L1412.8 1106.1zM1421.6 1090.9L1428.5 1102.7L1414.8 1102.7zM1423.3 1087.2L1430.1 1099L1416.4 1099zM1424.6 1083.4L1431.4 1095.2L1417.7 1095.2zM1425.6 1079.6L1432.5 1091.4L1418.8 1091.4zM1426.6 1075.7L1433.4 1087.5L1419.7 1087.5zM1428.5 1066.9L1435.4 1078.7L1421.7 1078.7zM1430.3 1058.1L1437.1 1069.9L1423.4 1069.9zM1434.9 1037.1L1441.8 1048.9L1428.1 1048.9zM1437.7 1019.5L1444.5 1031.3L1430.9 1031.3zM1441.3 998.4L1448.1 1010.2L1434.5 1010.2zM1445.1 971.4L1451.9 983.2L1438.2 983.2zM1450.4 939.5L1457.2 951.3L1443.6 951.3zM1455.7 899.9L1462.5 911.7L1448.9 911.7zM1462.8 850.5L1469.6 862.3L1456 862.3zM1471.5 791L1478.3 802.8L1464.7 802.8zM1481.7 719.1L1488.5 730.9L1474.9 730.9z"/>
<path fill="#008080" stroke="#008080" stroke-width="0.7" stroke-linejoin="round" d="M1248.1 1155L1261.8 1155L1254.9 1166.8zM1248.2 1152L1261.9 1152L1255 1163.8zM1248.3 1149L1262 1149L1255.2 1160.8zM1248.5 1146L1262.2 1146L1255.3 1157.8zM1248.6 1143L1262.3 1143L1255.4 1154.8zM1248.7 1140L1262.4 1140L1255.6 1151.8zM1249 1137L1262.7 1137L1255.8 1148.8zM1249.2 1134L1262.9 1134L1256.1 1145.8zM1249.6 1131L1263.3 1131L1256.4 1142.8zM1250 1128.1L1263.7 1128.1L1256.8 1139.9zM1250.5 1125.1L1264.2 1125.1L1257.3 1136.9zM1251.1 1122.1L1264.8 1122.1L1257.9 1133.9zM1251.7 1119.2L1265.4 1119.2L1258.6 1131zM1252.5 1116.3L1266.2 1116.3L1259.3 1128.1zM1253.4 1113.5L1267.1 1113.5L1260.2 1125.3zM1254.3 1110.6L1268 1110.6L1261.2 1122.4zM1255.5 1107.8L1269.2 1107.8L1262.3 1119.6zM1257.4 1103.7L1271.1 1103.7L1264.3 1115.5zM1259.7 1099.7L1273.4 1099.7L1266.5 1111.5zM1262.3 1095.9L1276 1095.9L1269.2 1107.7zM1265.2 1092.3L1278.9 1092.3L1272 1104.1zM1268.3 1088.9L1282 1088.9L1275.2 1100.7zM1271.6 1085.7L1285.3 1085.7L1278.4 1097.5zM1275 1082.6L1288.7 1082.6L1281.9 1094.4zM1278.6 1079.7L1292.3 1079.7L1285.4 1091.5zM1282.3 1077L1296 1077L1289.1 1088.8zM1286.1 1074.4L1299.8 1074.4L1292.9 1086.2zM1290 1072.1L1303.7 1072.1L1296.9 1083.9zM1294.1 1069.8L1307.8 1069.8L1300.9 1081.6zM1298.2 1067.9L1311.9 1067.9L1305.1 1079.7zM1302.5 1066.2L1316.2 1066.2L1309.3 1078zM1306.8 1064.6L1320.5 1064.6L1313.7 1076.4zM1311.2 1063.4L1324.9 1063.4L1318.1 1075.2zM1315.8 1062.7L1329.5 1062.7L1322.6 1074.5zM1320.4 1062.8L1334.1 1062.8L1327.2 1074.6zM1324.9 1063.8L1338.6 1063.8L1331.7 1075.6zM1329.2 1065.5L1342.9 1065.5L1336 1077.3zM1333.2 1067.7L1346.9 1067.7L1340.1 1079.5zM1337 1070.2L1350.7 1070.2L1343.9 1082zM1340.6 1073.2L1354.3 1073.2L1347.4 1085zM1343.9 1076.3L1357.6 1076.3L1350.8 1088.1zM1347.2 1079.5L1360.9 1079.5L1354.1 1091.3zM1350.5 1082.7L1364.2 1082.7L1357.4 1094.5zM1353.8 1086L1367.5 1086L1360.6 1097.8zM1356.9 1089.3L1370.6 1089.3L1363.8 1101.1zM1360 1092.8L1373.7 1092.8L1366.8 1104.6zM1362.8 1096.4L1376.5 1096.4L1369.7 1108.2zM1365.7 1099.9L1379.4 1099.9L1372.6 1111.7zM1368.8 1103.4L1382.5 1103.4L1375.6 1115.2zM1371.9 1106.8L1385.6 1106.8L1378.7 1118.6zM1375.1 1110L1388.8 1110L1382 1121.8zM1379.8 1107.4L1393.4 1107.4L1386.6 1119.2zM1381.1 1103.2L1394.8 1103.2L1387.9 1115zM1383.1 1097.4L1396.8 1097.4L1389.9 1109.2zM1385 1088.3L1398.6 1088.3L1391.8 1100.1zM1386.5 1078L1400.1 1078L1393.3 1089.8zM1387.9 1067.7L1401.5 1067.7L1394.7 1079.5zM1389.2 1058.8L1402.9 1058.8L1396.1 1070.6zM1391.8 1043.3L1405.4 1043.3L1398.6 1055.1zM1394.9 1025.1L1408.5 1025.1L1401.7 1036.9zM1398.2 1002.5L1411.8 1002.5L1405 1014.3zM1402.2 975.1L1415.9 975.1L1409.1 986.9zM1407.2 941.7L1420.8 941.7L1414 953.5zM1412.9 902.6L1426.5 902.6L1419.7 914.4zM1419.2 854L1432.8 854L1426 865.8zM1426.9 794.2L1440.5 794.2L1433.7 806zM1436.4 722.5L1450 722.5L1443.2 734.3z"/>
</g>
<g class="tb" font-size="50.6" fill="#000">
<text x="1210.6" y="1152.4" text-anchor="end">0</text><text x="1210.6" y="1061.1" text-anchor="end">6</text><text x="1210.6" y="969.8" text-anchor="end">12</text><text x="1210.6" y="878.4" text-anchor="end">18</text><text x="1210.6" y="787.1" text-anchor="end">24</text><text x="1210.6" y="695.8" text-anchor="end">30</text>
<text x="1221.3" y="1218" text-anchor="middle">0</text><text x="1385.1" y="1218" text-anchor="middle">20</text><text x="1548.9" y="1218" text-anchor="middle">40</text><text x="1712.7" y="1218" text-anchor="middle">60</text><text x="1876.5" y="1218" text-anchor="middle">80</text>
</g>
<path fill="#000" d="M1628.6 738.2h11.8v11.8h-11.8z"/><circle cx="1634.5" cy="779.7" r="6.5" fill="#f00"/><path fill="#00f" d="M1634.5 806.8L1642.3 820.4H1626.7z"/><path fill="#008080" d="M1626.7 847H1642.3L1634.5 861.2z"/>
<text><tspan class="lg" font-size="31.2" x="1663.8" y="752.8">180</tspan><tspan class="lg" font-size="10"> </tspan><tspan class="dc" font-size="27.6" x="1718.2" y="752.8">℃</tspan></text>
<text><tspan class="lg" font-size="31.2" x="1663.8" y="788.7">200</tspan><tspan class="lg" font-size="10"> </tspan><tspan class="dc" font-size="27.6" x="1718.2" y="788.7">℃</tspan></text>
<text><tspan class="lg" font-size="31.2" x="1663.8" y="824.6">220</tspan><tspan class="lg" font-size="10"> </tspan><tspan class="dc" font-size="27.6" x="1718.2" y="824.6">℃</tspan></text>
<text><tspan class="lg" font-size="31.2" x="1663.8" y="860.5">240</tspan><tspan class="lg" font-size="10"> </tspan><tspan class="dc" font-size="27.6" x="1718.2" y="860.5">℃</tspan></text>
</g>
</svg>
</body></html>
